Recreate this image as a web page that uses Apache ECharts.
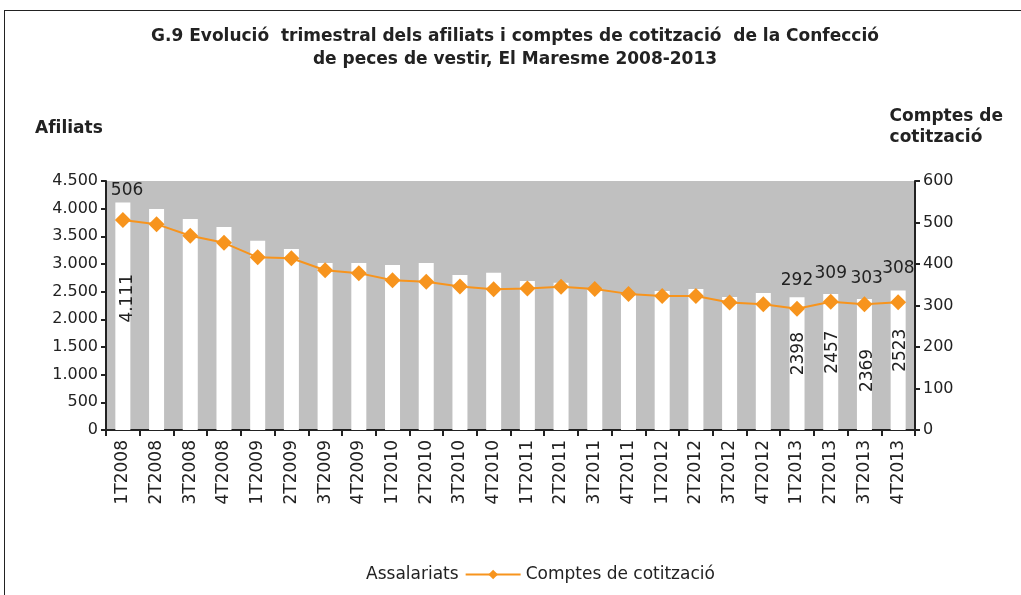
<!DOCTYPE html>
<html lang="ca">
<head>
    <meta charset="UTF-8">
    <title>G.9 Afiliats i comptes de cotització</title>
    <script src="https://cdn.jsdelivr.net/npm/echarts@6/dist/echarts.min.js"></script>
    <style>
        html, body { margin: 0; padding: 0; background: #fff; }
        #frame { position: absolute; left: 4px; top: 10px; width: 1030px; height: 600px; border-left: 1px solid #222; border-top: 1px solid #222; }
        #chart { position: absolute; left: 0; top: 0; width: 1021px; height: 595px; }
    </style>
</head>
<body>
<div id="frame"></div>
<div id="chart"></div>
<script type="text/javascript">

    // trimestres
    var trimestres = ['1T2008', '2T2008', '3T2008', '4T2008', '1T2009', '2T2009', '3T2009', '4T2009',
        '1T2010', '2T2010', '3T2010', '4T2010', '1T2011', '2T2011', '3T2011', '4T2011',
        '1T2012', '2T2012', '3T2012', '4T2012', '1T2013', '2T2013', '3T2013', '4T2013'];

    // afiliats (assalariats) - llegits del gràfic
    var assalariats = [4111, 3996, 3815, 3670, 3418, 3273, 3020, 3020,
        2984, 3020, 2803, 2840, 2694, 2660, 2566, 2477,
        2513, 2550, 2405, 2477, 2398, 2457, 2369, 2523];

    // comptes de cotització
    var comptes = [506, 496, 468, 451, 416, 414, 385, 378,
        361, 357, 346, 339, 341, 345, 340, 328,
        323, 323, 307, 303, 292, 309, 303, 308];

    // quins punts porten etiqueta
    var ambEtiqueta = [0, 20, 21, 22, 23];

    var font = 'DejaVu Sans';
    var taronja = '#f7941d';

    function puntBarra(i) {
        var lbl = { show: ambEtiqueta.indexOf(i) >= 0 };
        if (i === 0) { lbl.offset = [18, 5]; }
        if (i === 22) { lbl.offset = [-6, 3]; }
        return { value: assalariats[i], label: lbl };
    }
    function puntLinia(i) {
        var lbl = { show: ambEtiqueta.indexOf(i) >= 0 };
        if (i === 0) { lbl.position = [-4, -30]; }
        if (i === 22) { lbl.position = [-6, -26]; }
        if (i === 23) { lbl.position = [-8, -34]; }
        return { value: comptes[i], label: lbl };
    }

    var chart = echarts.init(document.getElementById('chart'), null, { renderer: 'canvas' });

    var option = {
        backgroundColor: 'transparent',
        animation: false,
        textStyle: { fontFamily: font },
        title: {
            text: 'G.9 Evolució  trimestral dels afiliats i comptes de cotització  de la Confecció\nde peces de vestir, El Maresme 2008-2013',
            left: 510,
            top: 20,
            textAlign: 'center',
            textStyle: { fontFamily: font, fontSize: 17, fontWeight: 'bold', color: '#222', lineHeight: 23 }
        },
        graphic: [
            { type: 'text', left: 35, top: 120, style: { text: 'Afiliats', font: 'bold 17px "DejaVu Sans"', fill: '#222' } },
            { type: 'text', right: 18, top: 106, style: { text: 'Comptes de\ncotització', font: 'bold 17px "DejaVu Sans"', fill: '#222', align: 'right', lineHeight: 21 } }
        ],
        legend: {
            bottom: 7,
            left: 'center',
            itemGap: 6,
            textStyle: { fontFamily: font, fontSize: 17, color: '#222' },
            data: [
                { name: 'Assalariats', icon: 'rect', itemStyle: { color: '#fff' } },
                { name: 'Comptes de cotització' }
            ],
            itemWidth: 55,
            itemHeight: 12
        },
        grid: {
            left: 106, right: 106, top: 181, bottom: 165,
            show: true, backgroundColor: '#c0c0c0', borderWidth: 0
        },
        xAxis: {
            type: 'category',
            data: trimestres,
            axisLine: { lineStyle: { color: '#222', width: 2 } },
            axisTick: { show: true, length: 6, lineStyle: { color: '#222', width: 2 } },
            axisLabel: { rotate: 90, fontSize: 17, color: '#222', fontFamily: font, margin: 10 }
        },
        yAxis: [{
            type: 'value',
            min: 0, max: 4500, interval: 500,
            axisLine: { show: true, lineStyle: { color: '#222', width: 2 } },
            axisTick: { show: true, length: 5, lineStyle: { color: '#222', width: 2 } },
            splitLine: { show: false },
            axisLabel: {
                fontSize: 16, color: '#222', fontFamily: font, margin: 8,
                formatter: function (v) { return v.toString().replace(/\B(?=(\d{3})+(?!\d))/g, '.'); }
            }
        }, {
            type: 'value',
            min: 0, max: 600, interval: 100,
            position: 'right',
            axisLine: { show: true, lineStyle: { color: '#222', width: 2 } },
            axisTick: { show: true, length: 5, lineStyle: { color: '#222', width: 2 } },
            splitLine: { show: false },
            axisLabel: { fontSize: 16, color: '#222', fontFamily: font, margin: 8 }
        }],
        series: [{
            name: 'Assalariats',
            type: 'bar',
            barWidth: 15,
            yAxisIndex: 0,
            itemStyle: { color: '#fff' },
            label: {
                position: 'inside', rotate: 90, fontSize: 17, color: '#222', fontFamily: font,
                offset: [10, 2],
                formatter: function (p) {
                    return p.dataIndex === 0 ? '4.111' : String(p.value);
                }
            },
            data: assalariats.map(function (v, i) { return puntBarra(i); }),
            z: 1
        }, {
            name: 'Comptes de cotització',
            type: 'line',
            yAxisIndex: 1,
            symbol: 'diamond',
            symbolSize: 16,
            color: taronja,
            lineStyle: { color: taronja, width: 2 },
            itemStyle: { color: taronja },
            label: { position: 'top', distance: 12, fontSize: 17, color: '#222', fontFamily: font },
            data: comptes.map(function (v, i) { return puntLinia(i); }),
            z: 3
        }]
    };

    chart.setOption(option);
</script>
</body>
</html>
